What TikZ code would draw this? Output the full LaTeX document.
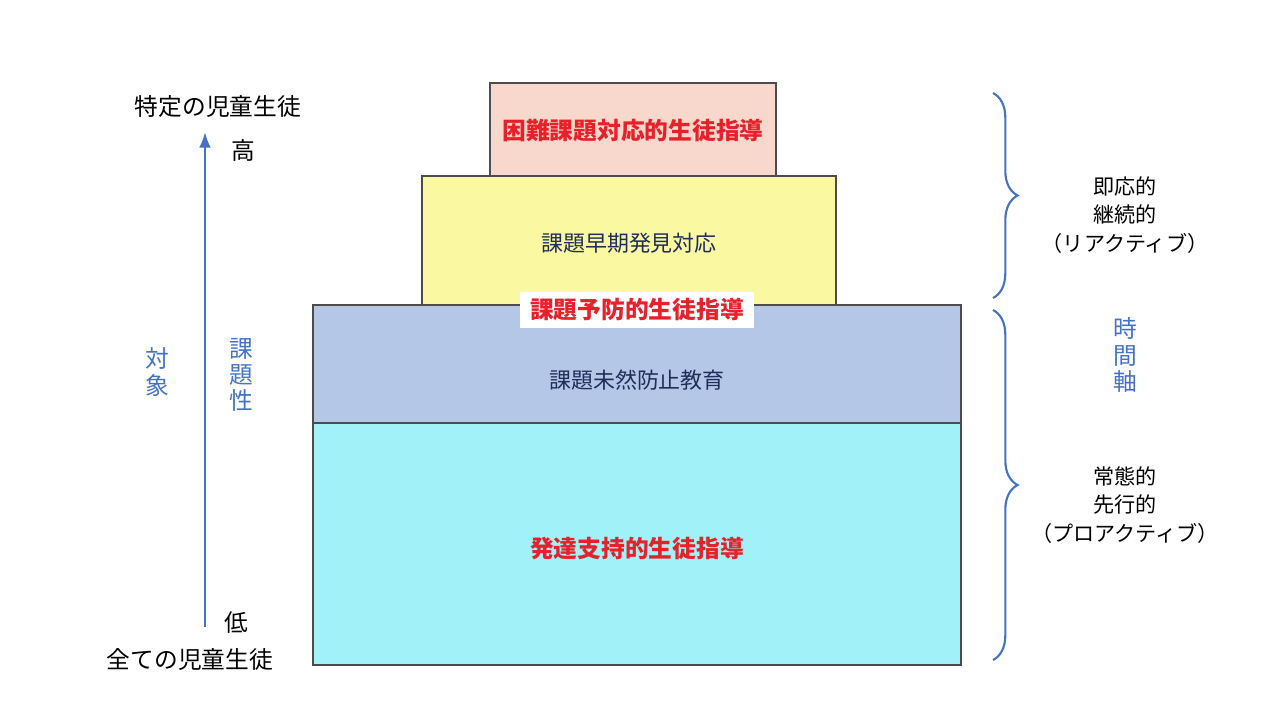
\documentclass[tikz,border=0pt]{standalone}
\usepackage{fontspec}
\setmainfont{Noto Sans CJK JP}
\usetikzlibrary{positioning,decorations.pathreplacing,arrows.meta}
\definecolor{tipred}{HTML}{E8202A}
\definecolor{navytxt}{HTML}{1F2D5A}
\definecolor{axisblue}{HTML}{4472C4}

\begin{document}
\begin{tikzpicture} [x=0.02cm,
    y=-0.02cm,
    >=Latex,
    level box/.style={draw=black!70, line width=0.6pt},
    red label/.style={text=tipred, font=\fontsize{13.5}{16}\selectfont\bfseries},
    navy label/.style={text=navytxt, font=\fontsize{12.5}{15}\selectfont},
    side label/.style={align=center, font=\fontsize{13.5}{17}\selectfont},
    right label/.style={align=center, font=\fontsize{12}{16}\selectfont},
    blue vert/.style={text=axisblue, align=center, font=\fontsize{13.5}{15}\selectfont},
    curly/.style={decorate, decoration={brace, amplitude=14pt}, draw=axisblue, line width=1.2pt}
  ]

  \useasboundingbox (0,0) rectangle (1280,704);

  % levels
  \filldraw [level box, fill={rgb,255:red,248;green,216;blue,204}] (490,83) rectangle (776,176);
  \filldraw [level box, fill={rgb,255:red,250;green,248;blue,160}] (422,176) rectangle (836,305);
  \filldraw [level box, fill={rgb,255:red,180;green,199;blue,231}] (313,305) rectangle (961,423);
  \filldraw [level box, fill={rgb,255:red,160;green,242;blue,248}] (313,423) rectangle (961,665);

  \node [red label] (hard) at (633,131) {困難課題対応的生徒指導};
  \node [navy label] (early) at (629,243) {課題早期発見対応};
  \node [red label, fill=white, inner xsep=6pt, inner ysep=4pt] (prevent) at (637,310) {課題予防的生徒指導};
  \node [navy label] (stop) at (637,380) {課題未然防止教育};
  \node [red label] (support) at (637,548) {発達支持的生徒指導};

  %%%%%%%%%%%%%%%%%%%%%%%%%%%%%%

  \node [side label] (few) at (218,107) {特定の児童生徒};
  \node [side label] (high) at (243,150) {高};
  \node [side label] (low) at (236,622) {低};
  \node [side label] (all) at (190,660) {全ての児童生徒};
  \coordinate (abot) at (205,627);
  \coordinate (atop) at (205,132);
  \draw [->, axisblue, line width=1.3pt] (abot) -- (atop);
  \node [blue vert] (target) at (157,372) {対\\象};
  \node [blue vert] (issue) at (241,375) {課\\題\\性};

  \coordinate (b1t) at (993,93);
  \coordinate (b1b) at (993,298);
  \coordinate (b2t) at (993,310);
  \coordinate (b2b) at (993,660);
  \draw [curly] (b1t) -- (b1b);
  \draw [curly] (b2t) -- (b2b);
  \node [right label] (react) at (1125,215) {即応的\\継続的\\（リアクティブ）};
  \node [blue vert] (time) at (1125,355) {時\\間\\軸};
  \node [right label] (proact) at (1125,505) {常態的\\先行的\\（プロアクティブ）};

\end{tikzpicture}
\end{document}
